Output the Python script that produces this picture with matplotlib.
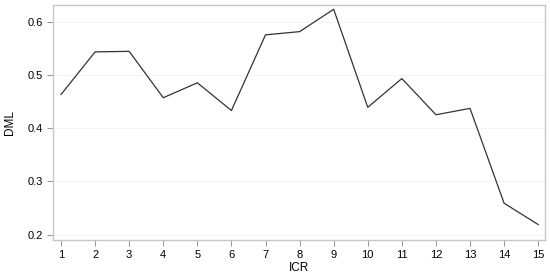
import matplotlib.pyplot as plt

icr = list(range(1, 16))
dml = [0.463, 0.543, 0.544, 0.457, 0.485, 0.433, 0.575, 0.581,
       0.623, 0.439, 0.493, 0.425, 0.437, 0.259, 0.219]
yticks = [0.2, 0.3, 0.4, 0.5, 0.6]

plt.rcParams['font.family'] = ['Liberation Sans', 'DejaVu Sans']

fig = plt.figure(figsize=(5.5, 2.74), dpi=100)
ax = fig.add_axes([53 / 550, 34 / 274, 492 / 550, 235 / 274])

ax.plot(icr, dml, color='#333333', lw=0.9)

ax.set_xlim(0.765, 15.2)
ax.set_ylim(0.19, 0.631)
ax.set_xticks(icr)
ax.set_yticks(yticks)
ax.set_yticklabels(['0.2', '0.3', '0.4', '0.5', '0.6'])
ax.grid(axis='y', color='#f2f2f2', lw=0.6)
ax.set_axisbelow(True)

for s in ax.spines.values():
    s.set_color('#c8c8c8')
    s.set_linewidth(1.0)

ax.tick_params(colors='#999999', labelcolor='black', labelsize=8, length=4, width=0.8)
ax.set_xlabel('ICR', fontsize=8.5, labelpad=1)
ax.set_ylabel('DML', fontsize=8.5, labelpad=8)

fig.savefig('out.png', dpi=100)
